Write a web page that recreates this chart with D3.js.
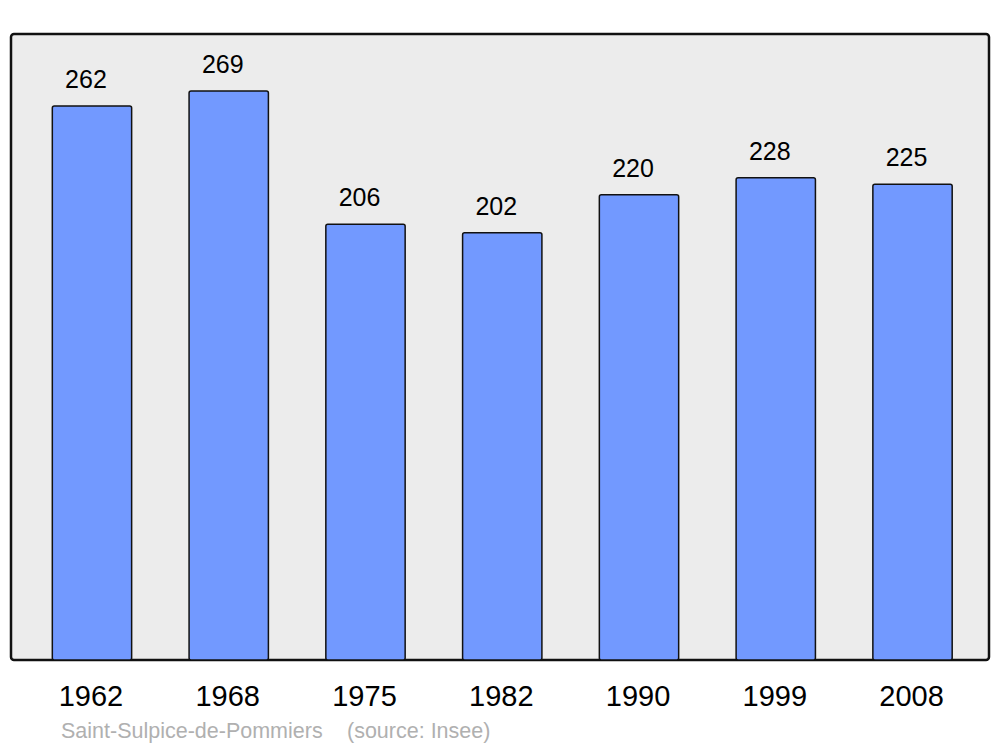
<!DOCTYPE html>
<html>
<head>
<meta charset="utf-8">
<script src="https://cdnjs.cloudflare.com/ajax/libs/d3/7.8.5/d3.min.js"></script>
<style>
  body { margin: 0; background: #fff; }
  svg { display: block; font-family: "Liberation Sans", Arial, sans-serif; }
</style>
</head>
<body>
<svg width="1000" height="747"></svg>
<script>
// population by census year
var years = ["1962", "1968", "1975", "1982", "1990", "1999", "2008"];
var population = [262, 269, 206, 202, 220, 228, 225];
var townName = "Saint-Sulpice-de-Pommiers";
var sourceText = "(source: Insee)";

var data = years.map(function(y, i) { return { year: y, value: population[i] }; });

var svg = d3.select("svg"),
    frame = { left: 11, top: 34, right: 989, bottom: 660 };

// plot background frame
svg.append("rect")
    .attr("x", frame.left)
    .attr("y", frame.top)
    .attr("width", frame.right - frame.left)
    .attr("height", frame.bottom - frame.top)
    .attr("rx", 3)
    .attr("fill", "#ececec")
    .attr("stroke", "#111")
    .attr("stroke-width", 2.5);

var xScale = d3.scaleBand()
    .domain(years)
    .range([23.6, 980.9])
    .paddingInner(0.42)
    .paddingOuter(0.21);

var yScale = d3.scaleLinear()
    .domain([0, 296])
    .range([frame.bottom, frame.top]);

var g = svg.append("g");

g.selectAll("rect.bar")
    .data(data)
    .enter().append("rect")
    .attr("class", "bar")
    .attr("x", function(d) { return xScale(d.year); })
    .attr("y", function(d) { return yScale(d.value); })
    .attr("width", xScale.bandwidth())
    .attr("height", function(d) { return frame.bottom - yScale(d.value); })
    .attr("rx", 2)
    .attr("fill", "#7299ff")
    .attr("stroke", "#111")
    .attr("stroke-width", 1.5);

// value labels above bars
g.selectAll("text.value")
    .data(data)
    .enter().append("text")
    .attr("class", "value")
    .attr("x", function(d) { return xScale(d.year) + xScale.bandwidth() / 2 - 6; })
    .attr("y", function(d) { return yScale(d.value) - 18; })
    .attr("text-anchor", "middle")
    .attr("font-size", 25)
    .attr("fill", "#000")
    .text(function(d) { return d.value; });

// year labels under the frame
var xAxis = d3.axisBottom(xScale).tickSize(0).tickPadding(0);
var axisG = svg.append("g")
    .attr("transform", "translate(0," + frame.bottom + ")")
    .call(xAxis);
axisG.select(".domain").remove();
axisG.selectAll("text")
    .attr("y", 46)
    .attr("dy", 0)
    .attr("font-size", 29)
    .attr("font-family", "Liberation Sans, Arial, sans-serif")
    .attr("fill", "#000")
    .attr("text-anchor", "middle")
    .attr("dx", -1);

// footer
svg.append("text")
    .attr("x", 61)
    .attr("y", 738)
    .attr("font-size", 21.5)
    .attr("fill", "#b0b0b0")
    .text(townName);
svg.append("text")
    .attr("x", 347)
    .attr("y", 738)
    .attr("font-size", 21.5)
    .attr("fill", "#b0b0b0")
    .text(sourceText);
</script>
</body>
</html>
